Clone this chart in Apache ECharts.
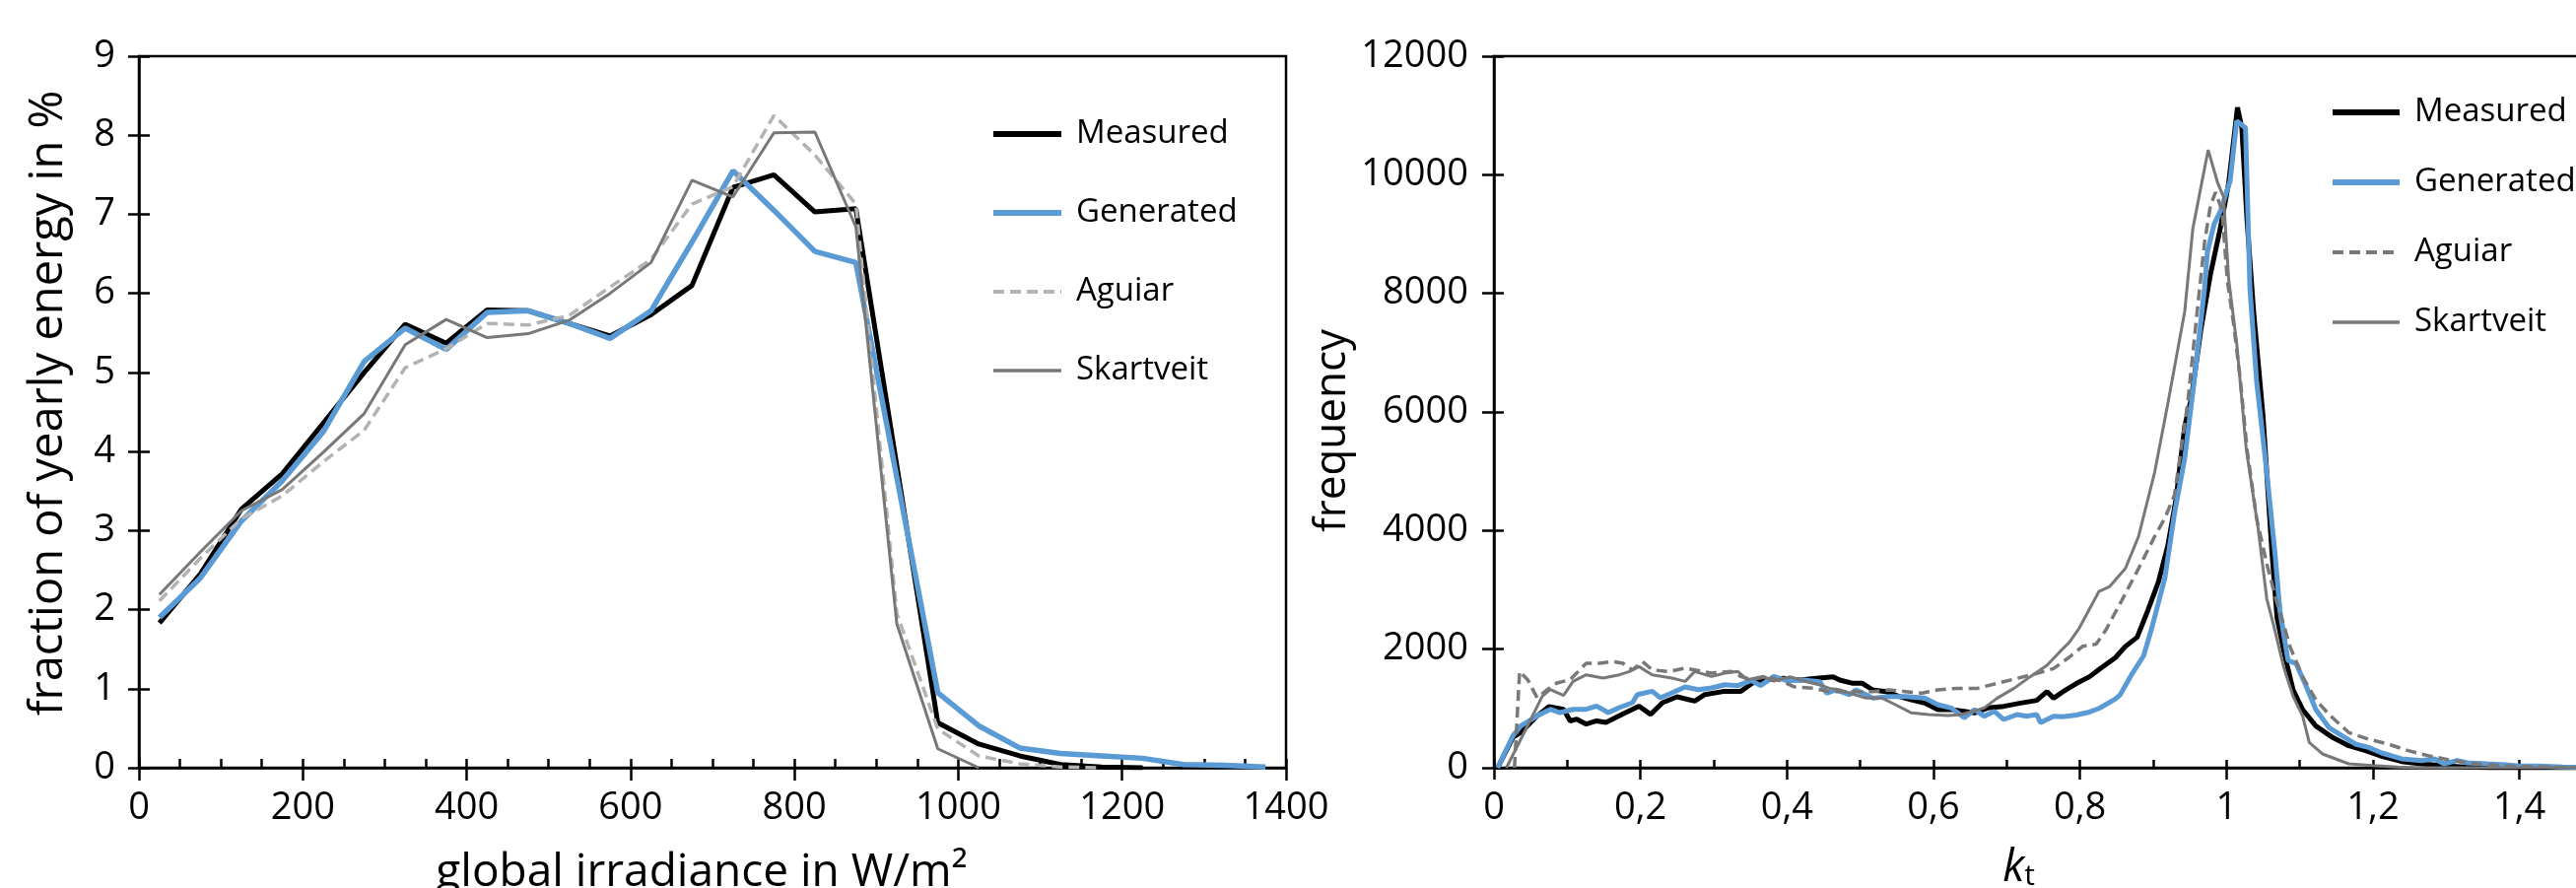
<!DOCTYPE html>
<html>
<head>
<meta charset="utf-8">
<script src="https://cdn.jsdelivr.net/npm/echarts@6/dist/echarts.min.js"></script>
<style>
  html, body { margin: 0; padding: 0; background: #fff; }
  #chart { width: 2614px; height: 901px; }
</style>
</head>
<body>
<div id="chart"></div>
<script>
// left panel: share of yearly energy per 50 W/m² bin (bin centres)
const irradianceBins = [25, 75, 125, 175, 225, 275, 325, 375, 425, 475, 525, 575, 625, 675, 725, 775, 825, 875, 925, 975, 1025, 1075, 1125, 1175, 1225, 1275, 1325, 1375];
const energyMeasured = [1.83, 2.45, 3.27, 3.72, 4.36, 5.0, 5.61, 5.37, 5.79, 5.78, 5.62, 5.46, 5.73, 6.1, 7.34, 7.5, 7.03, 7.07, 3.82, 0.57, 0.3, 0.15, 0.04, 0.01, 0];
const energyGenerated = [1.9, 2.4, 3.12, 3.63, 4.25, 5.14, 5.56, 5.29, 5.76, 5.78, 5.62, 5.43, 5.78, 6.65, 7.55, 7.05, 6.53, 6.39, 3.67, 0.95, 0.53, 0.25, 0.18, 0.15, 0.12, 0.04, 0.03, 0.01];
const energyAguiar = [2.11, 2.65, 3.15, 3.44, 3.87, 4.27, 5.06, 5.3, 5.62, 5.6, 5.72, 6.08, 6.43, 7.13, 7.35, 8.25, 7.75, 7.13, 1.95, 0.49, 0.15, 0.05, 0.01, 0];
const energySkartveit = [2.19, 2.73, 3.25, 3.52, 3.99, 4.48, 5.35, 5.67, 5.44, 5.49, 5.66, 6.0, 6.39, 7.43, 7.22, 8.03, 8.04, 6.84, 1.82, 0.24, 0];

// right panel: frequency of clearness index kt
const ktMeasured = [0.005, 0.026, 0.037, 0.059, 0.075, 0.095, 0.104, 0.113, 0.126, 0.14, 0.153, 0.171, 0.189, 0.198, 0.214, 0.23, 0.25, 0.274, 0.288, 0.315, 0.337, 0.353, 0.373, 0.395, 0.418, 0.44, 0.463, 0.472, 0.49, 0.503, 0.517, 0.535, 0.553, 0.57, 0.588, 0.606, 0.624, 0.642, 0.656, 0.674, 0.696, 0.719, 0.741, 0.755, 0.764, 0.777, 0.795, 0.813, 0.826, 0.848, 0.862, 0.878, 0.893, 0.907, 0.92, 0.931, 0.943, 0.952, 0.965, 0.978, 0.992, 1.003, 1.015, 1.021, 1.028, 1.037, 1.05, 1.062, 1.069, 1.08, 1.091, 1.104, 1.122, 1.145, 1.167, 1.19, 1.212, 1.239, 1.266, 1.293, 1.324, 1.36, 1.5];
const freqMeasured = [0, 515, 600, 875, 1030, 985, 790, 820, 737, 790, 765, 875, 985, 1040, 900, 1097, 1197, 1125, 1235, 1290, 1290, 1430, 1485, 1510, 1480, 1507, 1535, 1480, 1424, 1424, 1313, 1285, 1202, 1147, 1091, 980, 980, 953, 925, 1008, 1036, 1091, 1136, 1285, 1174, 1285, 1420, 1535, 1659, 1853, 2046, 2200, 2664, 3130, 3748, 4522, 5760, 6224, 7384, 8313, 9125, 9861, 11137, 10790, 9242, 7694, 5915, 3640, 2532, 1867, 1313, 980, 704, 510, 371, 288, 194, 105, 66, 39, 11, 0, 0];

const ktGenerated = [0.005, 0.026, 0.037, 0.059, 0.077, 0.09, 0.108, 0.126, 0.14, 0.156, 0.171, 0.189, 0.196, 0.216, 0.227, 0.243, 0.261, 0.279, 0.297, 0.315, 0.333, 0.351, 0.364, 0.382, 0.4, 0.422, 0.445, 0.454, 0.467, 0.485, 0.494, 0.517, 0.539, 0.562, 0.588, 0.606, 0.624, 0.642, 0.656, 0.669, 0.683, 0.696, 0.714, 0.728, 0.741, 0.746, 0.764, 0.777, 0.795, 0.813, 0.826, 0.848, 0.855, 0.871, 0.887, 0.898, 0.916, 0.929, 0.943, 0.956, 0.97, 0.974, 0.983, 0.992, 1.005, 1.014, 1.026, 1.032, 1.041, 1.055, 1.066, 1.073, 1.084, 1.095, 1.109, 1.122, 1.14, 1.158, 1.176, 1.194, 1.212, 1.239, 1.266, 1.284, 1.297, 1.315, 1.329, 1.356, 1.382, 1.4, 1.427, 1.459, 1.5];
const freqGenerated = [0, 543, 710, 875, 985, 930, 985, 985, 1040, 930, 1014, 1097, 1235, 1290, 1180, 1263, 1363, 1318, 1346, 1400, 1385, 1474, 1385, 1540, 1468, 1480, 1451, 1258, 1313, 1230, 1313, 1174, 1202, 1202, 1174, 1064, 1008, 842, 980, 870, 953, 814, 897, 870, 897, 759, 870, 859, 890, 940, 1002, 1157, 1233, 1582, 1891, 2355, 3206, 4290, 5219, 6533, 8081, 8700, 9164, 9397, 9899, 10906, 10790, 8081, 6533, 4986, 3640, 2643, 1811, 1756, 1368, 980, 676, 537, 399, 343, 249, 150, 122, 150, 66, 122, 83, 66, 50, 28, 28, 11, 3];

const ktAguiar = [0.028, 0.035, 0.046, 0.059, 0.073, 0.086, 0.104, 0.126, 0.144, 0.162, 0.176, 0.189, 0.203, 0.216, 0.239, 0.261, 0.274, 0.297, 0.324, 0.337, 0.351, 0.373, 0.395, 0.409, 0.436, 0.458, 0.485, 0.517, 0.539, 0.562, 0.584, 0.606, 0.633, 0.66, 0.687, 0.714, 0.741, 0.764, 0.786, 0.804, 0.822, 0.835, 0.857, 0.88, 0.902, 0.916, 0.929, 0.947, 0.96, 0.97, 0.978, 0.985, 0.994, 1.001, 1.01, 1.019, 1.028, 1.041, 1.055, 1.068, 1.078, 1.087, 1.104, 1.122, 1.14, 1.167, 1.194, 1.221, 1.248, 1.275, 1.302, 1.329, 1.356, 1.391, 1.436, 1.5];
const freqAguiar = [0, 1623, 1485, 1180, 1318, 1430, 1485, 1762, 1762, 1790, 1762, 1650, 1790, 1650, 1623, 1680, 1650, 1595, 1623, 1540, 1485, 1540, 1450, 1368, 1340, 1285, 1285, 1285, 1313, 1285, 1258, 1313, 1340, 1340, 1424, 1507, 1590, 1673, 1870, 2050, 2084, 2317, 2820, 3361, 3902, 4213, 4599, 6146, 7695, 8855, 9473, 9706, 9397, 8235, 7462, 6533, 5373, 4213, 3440, 2820, 2421, 2033, 1535, 1147, 897, 593, 482, 399, 288, 205, 138, 83, 50, 28, 11, 3];

const ktSkartveit = [0.017, 0.046, 0.066, 0.077, 0.095, 0.108, 0.126, 0.149, 0.171, 0.185, 0.198, 0.216, 0.243, 0.261, 0.274, 0.297, 0.315, 0.333, 0.346, 0.368, 0.382, 0.404, 0.427, 0.445, 0.458, 0.472, 0.508, 0.53, 0.548, 0.57, 0.593, 0.62, 0.638, 0.669, 0.687, 0.71, 0.732, 0.755, 0.772, 0.786, 0.799, 0.826, 0.84, 0.862, 0.88, 0.902, 0.92, 0.943, 0.954, 0.975, 0.988, 0.996, 1.003, 1.014, 1.027, 1.043, 1.055, 1.064, 1.078, 1.091, 1.104, 1.113, 1.131, 1.167, 1.199, 1.234, 1.26, 1.5];
const freqSkartveit = [0, 710, 1208, 1318, 1219, 1457, 1568, 1512, 1568, 1623, 1706, 1568, 1512, 1457, 1623, 1540, 1595, 1623, 1485, 1540, 1460, 1535, 1451, 1396, 1340, 1313, 1174, 1174, 1064, 925, 897, 881, 897, 1008, 1174, 1340, 1535, 1729, 1950, 2124, 2355, 2975, 3051, 3361, 3902, 4986, 6146, 7695, 9086, 10420, 9861, 9628, 8235, 7153, 5373, 4057, 2850, 2421, 1701, 1202, 870, 427, 233, 66, 39, 11, 0, 0];

const FONT = "Open Sans";
const BLACK = "#000";
const BLUE = "#5b9bd5";
const GREY = "#787878";
const LIGHT = "#b3b3b3";
const AXW = 2.5;

const pairs = (xs, ys) => ys.map((y, i) => [xs[i], y]);
const plain = (v) => String(v);
const comma = (v) => String(+v.toFixed(1)).replace(".", ",");

function lineSeries(name, grid, data, color, width, dashed) {
  return {
    name, type: "line", xAxisIndex: grid * 2, yAxisIndex: grid * 2, data,
    symbol: "none", animation: false,
    itemStyle: { color },
    lineStyle: { color, width, type: dashed ? [11, 6] : "solid" },
  };
}

// main axis carries line, labels, inward ticks; the overlay adds the outward half of each tick
function axisPair(kind, grid, min, max, interval, opts) {
  const tickStyle = { color: BLACK, width: AXW };
  const main = {
    gridIndex: grid, type: "value", min, max, interval,
    position: kind === "x" ? "bottom" : "left",
    axisLine: { show: true, onZero: false, lineStyle: { color: BLACK, width: AXW } },
    axisTick: { show: true, inside: true, length: opts.inLen, lineStyle: tickStyle },
    minorTick: { show: !!opts.minor, splitNumber: opts.minor || 5, length: opts.inLen, lineStyle: tickStyle },
    axisLabel: { color: BLACK, fontSize: 38, fontFamily: FONT, margin: opts.margin, formatter: opts.fmt || plain },
    splitLine: { show: false },
    name: opts.name, nameLocation: "middle", nameGap: opts.nameGap, nameMoveOverlap: false,
    nameTextStyle: Object.assign({ color: BLACK, fontSize: 44, fontFamily: FONT }, opts.nameStyle || {}),
  };
  const overlay = {
    gridIndex: grid, type: "value", min, max, interval,
    position: kind === "x" ? "bottom" : "left",
    axisLine: { show: false, onZero: false },
    axisTick: { show: true, inside: false, length: opts.outLen, lineStyle: tickStyle },
    axisLabel: { show: false },
    splitLine: { show: false },
  };
  return [main, overlay];
}

const xAxes = [
  ...axisPair("x", 0, 0, 1400, 200, {
    inLen: 9, outLen: 13, minor: 4, margin: 22,
    name: "global irradiance in W/m²", nameGap: 84,
    nameStyle: { fontSize: 46, padding: [0, 22, 0, 0] },
  }),
  ...axisPair("x", 1, 0, 1.5, 0.2, {
    inLen: 8, outLen: 12, minor: 2, margin: 22,
    fmt: (v) => (v > 1.45 ? "" : comma(v)),
    name: "{k|k}{t|t}", nameGap: 80,
    nameStyle: {
      padding: [0, 50, 0, 0],
      rich: {
        k: { fontSize: 45, fontStyle: "italic", fontFamily: FONT, color: BLACK, lineHeight: 45, verticalAlign: "bottom" },
        t: { fontSize: 30, fontFamily: FONT, color: BLACK, lineHeight: 22, verticalAlign: "bottom" },
      },
    },
  }),
];

const yAxes = [
  ...axisPair("y", 0, 0, 9, 1, {
    inLen: 11, outLen: 11, margin: 24,
    name: "fraction of yearly energy in %", nameGap: 68,
    nameStyle: { fontSize: 47, padding: [0, 0, 0, 18] },
  }),
  ...axisPair("y", 1, 0, 12000, 2000, {
    inLen: 10, outLen: 12, margin: 26,
    name: "frequency", nameGap: 142,
    nameStyle: { padding: [0, 38, 0, 0] },
  }),
];

const legendText = { color: BLACK, fontSize: 33, fontFamily: FONT, lineHeight: 40, padding: [0, 0, 0, 10] };
// the symbol that ECharts adds to line legend icons is hidden; only the stroke remains
const legendItems = (dashColor) => [
  { name: "Measured", lineStyle: { width: 6 } },
  { name: "Generated", lineStyle: { width: 6 } },
  { name: "Aguiar", lineStyle: { color: dashColor, width: 4 } },
  { name: "Skartveit", lineStyle: { color: GREY, width: 3.5 } },
];

const chart = echarts.init(document.getElementById("chart"), null, { renderer: "canvas" });
chart.setOption({
  animation: false,
  backgroundColor: "#fff",
  grid: [
    { left: 141, top: 57, right: 1309, bottom: 122, show: true, borderColor: BLACK, borderWidth: AXW, outerBoundsMode: "none" },
    { left: 1516, top: 57, right: -17, bottom: 122, show: true, borderColor: BLACK, borderWidth: AXW, outerBoundsMode: "none" },
  ],
  xAxis: xAxes,
  yAxis: yAxes,
  legend: [
    {
      left: 1000, top: 111, orient: "vertical", selectedMode: false,
      itemWidth: 69, itemHeight: 12, itemGap: 40, textStyle: legendText,
      itemStyle: { opacity: 0 },
      data: legendItems(LIGHT),
    },
    {
      left: 2359, top: 89, orient: "vertical", selectedMode: false,
      itemWidth: 68, itemHeight: 12, itemGap: 31, textStyle: legendText,
      itemStyle: { opacity: 0 },
      data: legendItems(GREY),
    },
  ],
  series: [
    lineSeries("Measured", 0, pairs(irradianceBins, energyMeasured), BLACK, 5),
    lineSeries("Generated", 0, pairs(irradianceBins, energyGenerated), BLUE, 5.5),
    lineSeries("Aguiar", 0, pairs(irradianceBins, energyAguiar), LIGHT, 3.5, true),
    lineSeries("Skartveit", 0, pairs(irradianceBins, energySkartveit), GREY, 3),
    lineSeries("Measured", 1, pairs(ktMeasured, freqMeasured), BLACK, 5),
    lineSeries("Generated", 1, pairs(ktGenerated, freqGenerated), BLUE, 5),
    lineSeries("Aguiar", 1, pairs(ktAguiar, freqAguiar), GREY, 3.5, true),
    lineSeries("Skartveit", 1, pairs(ktSkartveit, freqSkartveit), GREY, 3),
  ],
});
</script>
</body>
</html>
